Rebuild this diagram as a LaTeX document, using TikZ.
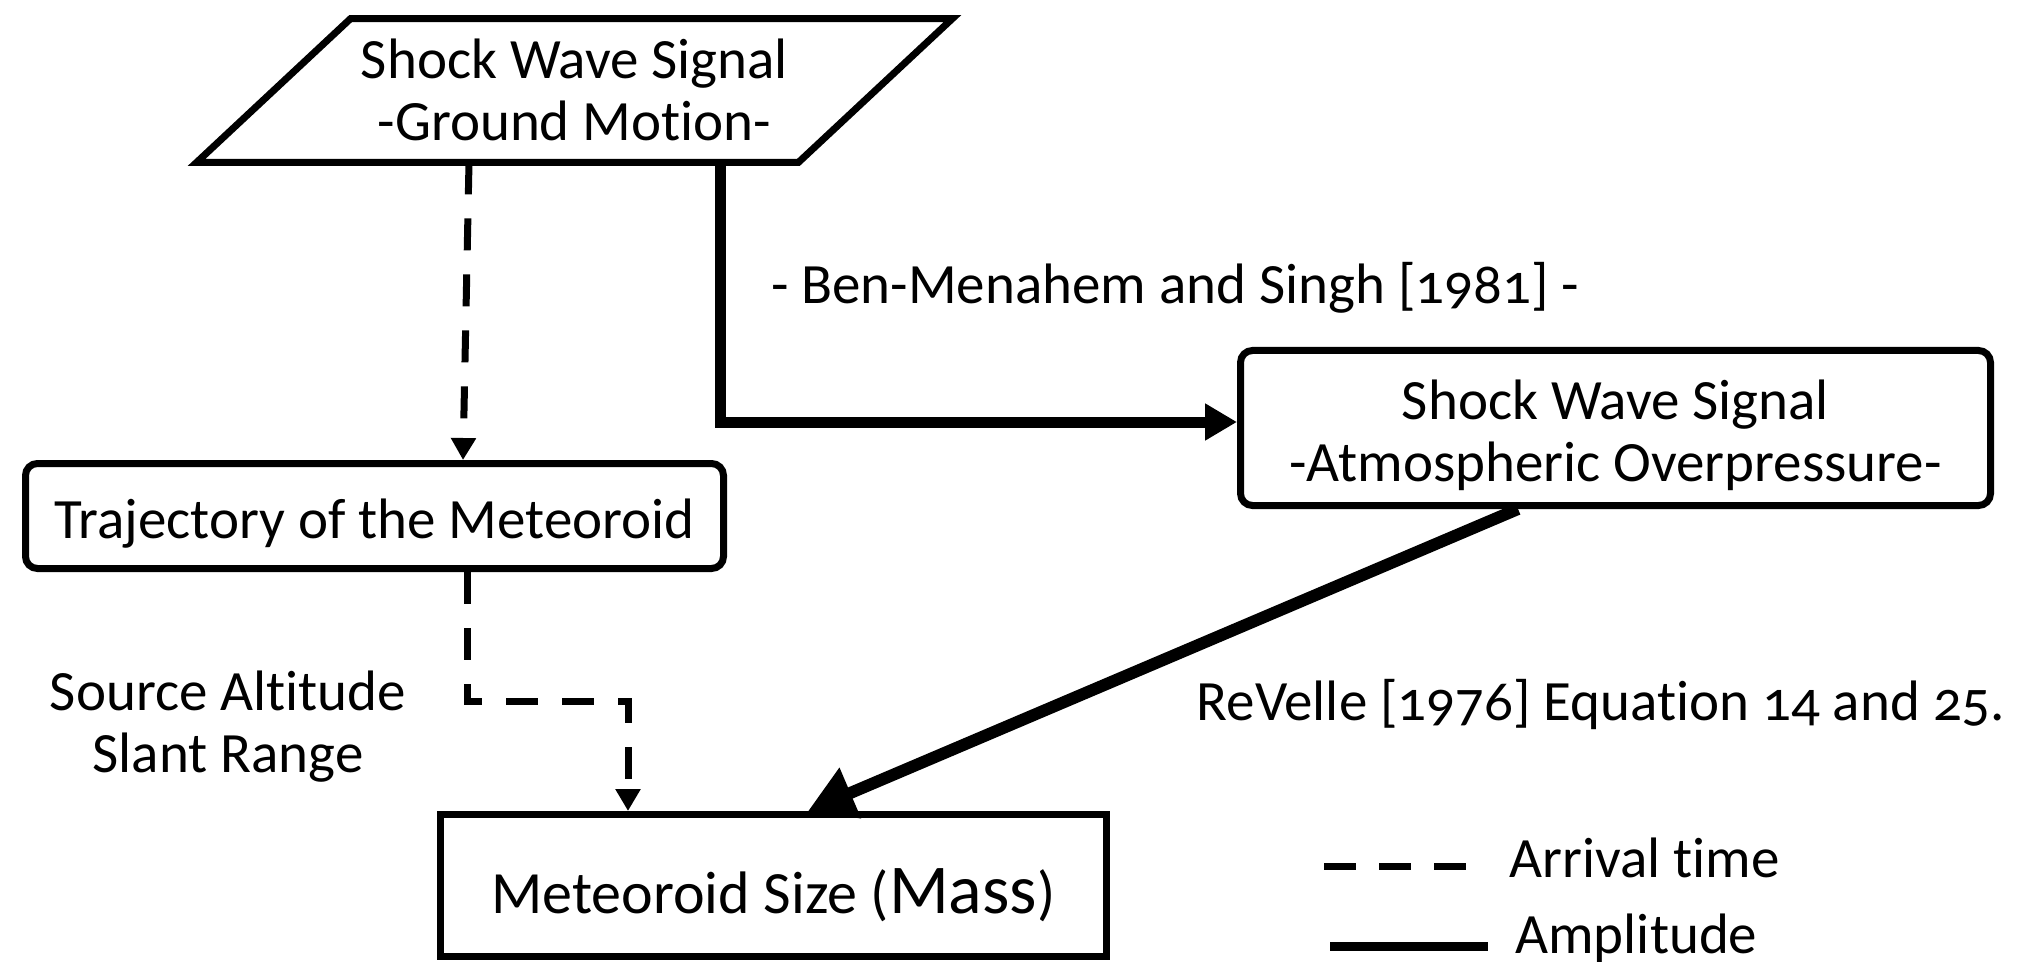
\documentclass[tikz,border=0pt]{standalone}
\usepackage{fontspec}
\setmainfont{Carlito}[Numbers=OldStyle,Ligatures=NoCommon]
\usetikzlibrary{arrows.meta,calc}
\begin{document}
\begin{tikzpicture}[x=0.5pt,y=-0.5pt,
  every node/.style={font=\fontsize{28.5pt}{31pt}\selectfont, inner sep=0pt},
  frame/.style={draw, line width=3.5pt, align=center},
  rbox/.style={frame, rounded corners=6pt},
  dashconn/.style={line width=3.5pt, dash pattern=on 16pt off 12pt, -{Triangle[width=12pt,length=11pt]}},
  solidconn/.style={line width=5.5pt, -{Triangle[width=17.5pt,length=16pt]}},
  bigconn/.style={line width=6pt, -{Triangle[width=26pt,length=23pt]}},
  lbl/.style={anchor=base}
]
\useasboundingbox (0,0) rectangle (2017,962);

% boxes
\node[minimum width=300.5pt, minimum height=71.5pt, align=center, text height=52pt, text depth=1.5pt] (gm) at (574.5,90.5) {Shock Wave Signal\\-Ground Motion-};
\draw[line width=3.5pt] ($(gm.south west)+(-77,0)$) -- ($(gm.south east)+(-77,0)$) -- ($(gm.north east)+(77,0)$) -- ($(gm.north west)+(77,0)$) -- cycle;

\node[rbox, minimum width=349pt, minimum height=52.5pt, text height=22pt, text depth=0pt] (trj) at (374.5,516) {Trajectory of the Meteoroid};
\node[rbox, minimum width=375pt, minimum height=77.5pt, text height=54pt, text depth=1pt] (ao) at (1615.5,428) {Shock Wave Signal\\-Atmospheric Overpressure-};
\node[frame, minimum width=333pt, minimum height=71pt, text height=27.5pt, text depth=0pt, font=\fontsize{30pt}{33pt}\selectfont] (mass) at (773.5,885.5) {Meteoroid Size ({\fontsize{35pt}{35pt}\selectfont Mass})};

% connectors
\coordinate (bend) at (628,701);
\draw[dashconn] ($(gm.south)+(-105.5,0)$) -- ($(trj.north)+(88.5,0)$);
\draw[solidconn] ($(gm.south)+(145.5,0)$) |- ($(ao.west)+(0,-6)$);
\draw[dashconn] ($(trj.south)+(92.5,0)$) |- (bend) -- (bend |- mass.north);
\draw[bigconn] ($(ao.south)+(-97.5,0)$) -- ($(mass.north)+(34.5,0)$);

% labels
\node[lbl] (ben) at (1175,304) {- Ben-Menahem and Singh [1981] -};
\node[lbl] (rev) at (1601,720) {ReVelle [1976] Equation 14 and 25.};
\node[align=center, text height=53pt, text depth=0pt] (src) at (228,719) {Source Altitude\\Slant Range};

% legend
\draw[line width=3.5pt, dash pattern=on 16pt off 11.5pt] (1324,866) -- (1467,866);
\draw[line width=4.5pt] (1330,946) -- (1488,946);
\node[anchor=base west] (arr) at (1509,877) {Arrival time};
\node[anchor=base west] (amp) at (1515,953) {Amplitude};
\end{tikzpicture}
\end{document}
